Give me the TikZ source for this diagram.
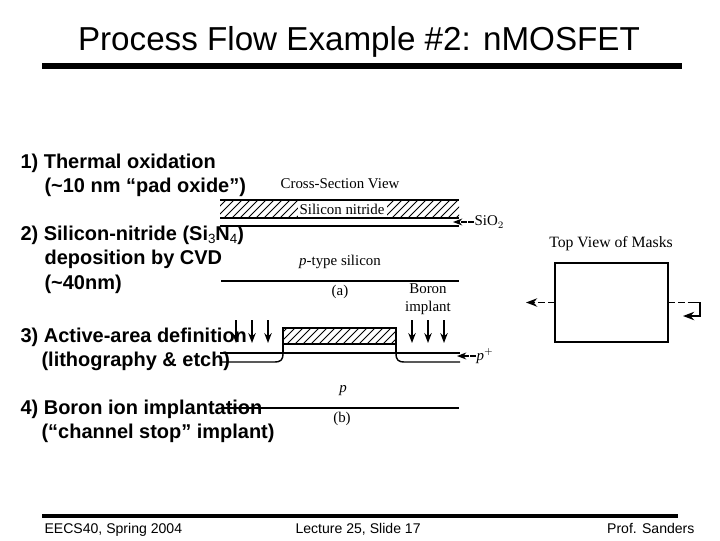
\documentclass[tikz,border=0pt]{standalone}
\usepackage{fontspec}
\setmainfont{Liberation Sans}
\newfontfamily\bookfont{Liberation Serif}
\usetikzlibrary{arrows.meta}
\newcommand{\subnum}[1]{\raisebox{-2.4pt}{\fontsize{9.5}{9.5}\selectfont\mdseries #1}}

\begin{document}
\begin{tikzpicture}[x=0.025cm,y=-0.025cm,line width=0.8pt,>=Stealth]
\tikzset{slidetext/.style={anchor=base west,inner sep=0pt,font=\fontsize{14.2}{16}\selectfont\bfseries},
  foottext/.style={anchor=base west,inner sep=0pt,font=\fontsize{10}{12}\selectfont},
  booktext/.style={inner sep=0pt,font=\fontsize{10.6}{12.6}\selectfont\bookfont},
  rule/.style={line width=4.2pt},
  lvl/.style={line width=0.8pt},
  hatchline/.style={line width=0.6pt},
  implant/.style={line width=0.9pt,->},
  pointer/.style={line width=0.8pt,dash pattern=on 4pt off 1.2pt,->},
  maskdash/.style={line width=1.1pt,dash pattern=on 4.5pt off 2.2pt}}
\useasboundingbox (0,0) rectangle (720,540);
\fill[white] (0,0) rectangle (720,540);
% ---------- title and rules ----------
\node[anchor=base,inner sep=0pt,font=\fontsize{23.6}{28}\selectfont] (title) at (359,50.5) {Process Flow Example \#2: nMOSFET};
\draw[rule] (42,66) -- (682,66);
\draw[line width=3pt] (42,516) -- (678,516);
% ---------- view (a) ----------
\node[booktext] (crosstitle) at (340,184) {Cross-Section View};
\begin{scope}
\clip (220,200) rectangle (459,218);
\foreach \x in {220,228,...,484}{\draw[hatchline] (\x-20,218) -- (\x,198);}
\fill[white] (298,200) rectangle (387,218);
\end{scope}
\draw[line width=1.1pt] (220,200) -- (459,200);
\draw[line width=1.1pt] (220,218) -- (459,218);
\node[booktext] (nitride) at (342,209) {Silicon nitride};
\draw[line width=1.1pt] (220,226) -- (459,226);
\node[booktext,anchor=west] (sio) at (474,222) {SiO$_2$};
\coordinate (sioend) at (453,222);
\draw[pointer] (sio.west) -- (sioend);
\node[booktext] (psilicon) at (340,262) {\textit{p}-type silicon};
\draw[lvl] (221,281) -- (459,281);
\node[booktext] (labela) at (340,292) {(a)};
\node[booktext,align=center] (boron) at (428,299) {Boron\\implant};
% ---------- view (b) ----------
\begin{scope}
\clip (283,328) rectangle (396,344);
\foreach \x in {283,291,...,420}{\draw[hatchline] (\x-20,344) -- (\x,324);}
\end{scope}
\draw[line width=1pt] (283,328) rectangle (396,344);
\draw[lvl] (283,344) -- (283,353);
\draw[lvl] (396,344) -- (396,353);
\draw[lvl] (220,353) -- (460,353);
\draw[line width=1pt] (220,362) -- (274,362) .. controls (281,362) and (283,360) .. (283,353);
\draw[line width=1pt] (396,353) .. controls (396,360) and (398,362) .. (405,362) -- (460,362);
\foreach \x in {236,252,268,412,428,444}{\draw[implant] (\x,320) -- (\x,343);}
\node[booktext,anchor=west] (pplus) at (476,356) {\textit{p}$^+$};
\coordinate (pend) at (457,356);
\draw[pointer] (pplus.west) -- (pend);
\node[booktext] (psub) at (343,391) {\textit{p}};
\draw[line width=1pt] (221,408) -- (459,408);
\node[booktext] (labelb) at (342,419) {(b)};
% ---------- masks ----------
\node[booktext,font=\fontsize{11.2}{13}\selectfont\bookfont] (masktitle) at (611,244) {Top View of Masks};
\node[draw,line width=1pt,minimum width=2.83cm,minimum height=1.98cm,inner sep=0pt] (mask) at (611.5,302.5) {};
\coordinate (maskleft) at (526,302.5);
\coordinate (maskturn) at (694,302.5);
\coordinate (maskright) at (683,316);
\draw[maskdash,->] (mask.west) -- (maskleft);
\draw[maskdash] (mask.east) -- (maskturn);
\draw[line width=1.1pt,->] (maskturn) -- (700,302.5) -- (700,316) -- (maskright);
% ---------- steps ----------
\node[slidetext] (stepa) at (20,168) {1) Thermal oxidation};
\node[slidetext] (stepb) at (44,192) {(\char`~10 nm “pad oxide”)};
\node[slidetext] (stepc) at (20,240) {2) Silicon-nitride (Si\subnum{3}N\subnum{4})};
\node[slidetext] (stepd) at (44,264) {deposition by CVD};
\node[slidetext] (stepe) at (44,289) {(\char`~40nm)};
\node[slidetext] (stepf) at (20,342) {3) Active-area definition};
\node[slidetext] (stepg) at (41,366) {(lithography \& etch)};
\node[slidetext] (steph) at (20,414) {4) Boron ion implantation};
\node[slidetext] (stepi) at (41,438) {(“channel stop” implant)};
% ---------- footer ----------
\node[foottext] (footl) at (44,533) {EECS40, Spring 2004};
\node[foottext] (footm) at (295,533) {Lecture 25, Slide 17};
\node[foottext,anchor=base east] (footr) at (695,533) {Prof. Sanders};
\end{tikzpicture}
\end{document}
